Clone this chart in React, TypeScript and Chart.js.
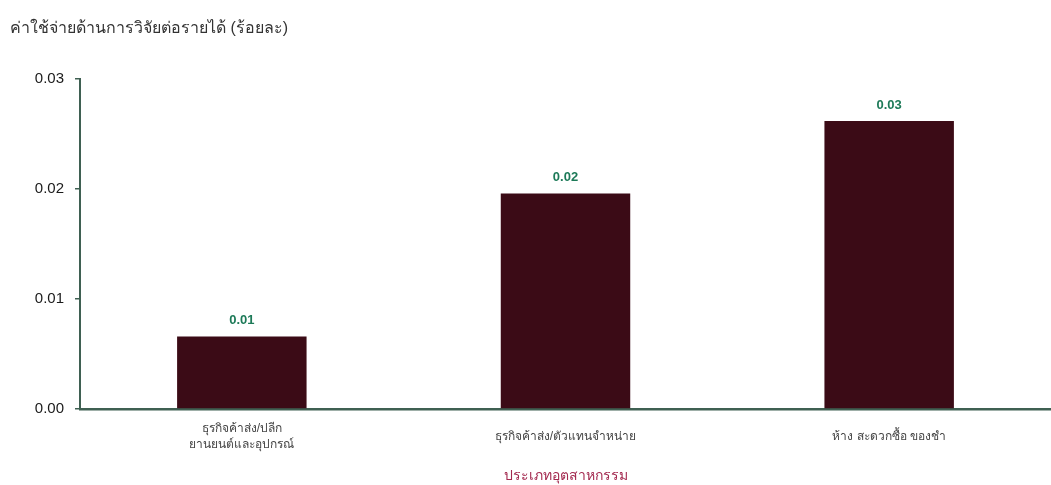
import React, { useEffect, useRef } from "react";
import { Chart, registerables } from "chart.js";

Chart.register(...registerables);

const categories: (string | string[])[] = [
  ["ธุรกิจค้าส่ง/ปลีก", "ยานยนต์และอุปกรณ์"],
  "ธุรกิจค้าส่ง/ตัวแทนจำหน่าย",
  "ห้าง สะดวกซื้อ ของชำ",
];
const values: number[] = [0.0066, 0.0196, 0.0262];
const yTicks: number[] = [0, 0.01, 0.02, 0.03];

const chartTitle = "ค่าใช้จ่ายด้านการวิจัยต่อรายได้ (ร้อยละ)";
const xTitle = "ประเภทอุตสาหกรรม";

const BAR = "#3b0b16";
const AXIS = "#3f6052";
const LABEL_GREEN = "#1d7a58";
const FONT = "'Liberation Sans', Arial, sans-serif";

const valueLabels = {
  id: "valueLabels",
  afterDatasetsDraw(chart: any) {
    const ctx = chart.ctx;
    const meta = chart.getDatasetMeta(0);
    ctx.save();
    ctx.font = `bold 13px ${FONT}`;
    ctx.fillStyle = LABEL_GREEN;
    ctx.textAlign = "center";
    ctx.textBaseline = "middle";
    meta.data.forEach((el: any, i: number) => {
      const v = chart.data.datasets[0].data[i] as number;
      ctx.fillText(v.toFixed(2), el.x, el.y - 16);
    });
    ctx.restore();
  },
};

export default function App() {
  const ref = useRef<HTMLCanvasElement | null>(null);
  useEffect(() => {
    if (!ref.current) return;
    const chart = new Chart(ref.current, {
      type: "bar",
      data: {
        labels: categories,
        datasets: [
          {
            data: values,
            backgroundColor: BAR,
            borderWidth: 0,
            barPercentage: 0.4,
            categoryPercentage: 1,
          },
        ],
      },
      options: {
        animation: false,
        responsive: true,
        maintainAspectRatio: false,
        layout: { padding: { left: 10, right: 0, top: 0, bottom: 0 } },
        plugins: {
          legend: { display: false },
          tooltip: { enabled: false },
          title: {
            display: true,
            text: chartTitle,
            align: "start",
            color: "#333333",
            font: { family: FONT, size: 16, weight: "normal" },
            padding: { top: 19, bottom: 41 },
          },
        },
        scales: {
          x: {
            grid: { display: false },
            border: { display: true, color: AXIS, width: 2.5 },
            ticks: {
              color: "#444444",
              font: { family: FONT, size: 12, lineHeight: "16px" } as any,
              padding: 12,
              autoSkip: false,
              maxRotation: 0,
              crossAlign: "center" as any,
            },
            title: {
              display: true,
              text: xTitle,
              color: "#a3294f",
              font: { family: FONT, size: 14 },
              padding: { top: 4, bottom: 0 },
            },
            afterFit(scale: any) {
              scale.height = 76;
            },
          },
          y: {
            min: 0,
            max: 0.03,
            afterBuildTicks(scale: any) {
              scale.ticks = yTicks.map((v) => ({ value: v }));
            },
            grid: {
              drawOnChartArea: false,
              drawTicks: true,
              tickLength: 5,
              tickColor: AXIS,
              lineWidth: 1.5,
            },
            border: { display: true, color: AXIS, width: 2 },
            ticks: {
              color: "#1a1a1a",
              font: { family: FONT, size: 15 },
              padding: 11,
              callback: (v: any) => Number(v).toFixed(2),
            },
            afterFit(scale: any) {
              scale.width = 70;
            },
          },
        },
      },
      plugins: [valueLabels],
    });
    return () => chart.destroy();
  }, []);
  return (
    <div style={{ position: "fixed", left: 0, top: 0, width: 1051, height: 485, background: "#ffffff" }}>
      <canvas ref={ref} />
    </div>
  );
}
